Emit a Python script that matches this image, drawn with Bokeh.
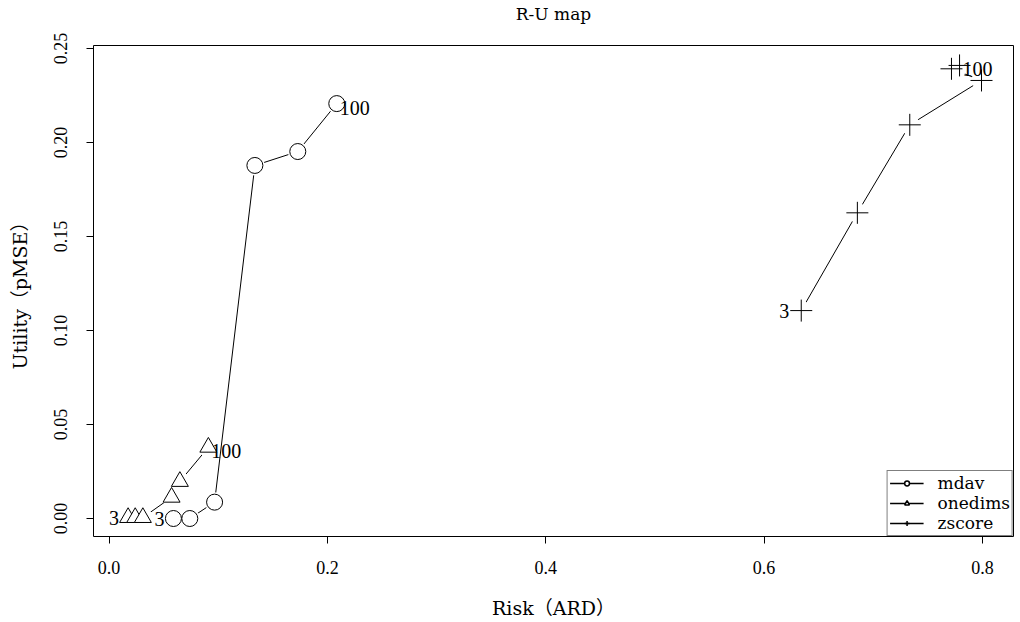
import math
from bokeh.plotting import figure
from bokeh.models import (Range1d, FixedTicker, Legend, LegendItem, ColumnDataSource,
                          NumeralTickFormatter, Title)
from bokeh.embed import file_html
from bokeh.resources import INLINE
from bokeh.core.properties import value

WORD_FONT = "DejaVu Serif, Noto Sans CJK JP, serif"
NUM_FONT = "Liberation Serif, serif"

# ---- data ----
k_labels = ["3", "100"]

mdav_risk = [0.059, 0.074, 0.0967, 0.1336, 0.1729, 0.2086]
mdav_util = [0.000, 0.000, 0.0087, 0.1878, 0.1952, 0.2207]

onedims_risk = [0.0175, 0.024, 0.031, 0.0573, 0.0649, 0.091]
onedims_util = [0.0005, 0.0005, 0.0005, 0.0113, 0.0197, 0.0379]

zscore_risk = [0.634, 0.6854, 0.7334, 0.7991, 0.7716, 0.779]
zscore_util = [0.1106, 0.1626, 0.2094, 0.233, 0.2392, 0.241]

x_ticks = [0.0, 0.2, 0.4, 0.6, 0.8]
y_ticks = [0.00, 0.05, 0.10, 0.15, 0.20, 0.25]

p = figure(width=1016, height=622, output_backend="svg", toolbar_location=None,
           x_range=Range1d(-0.0142, 0.8284), y_range=Range1d(-0.00957, 0.2516),
           min_border_left=93, min_border_right=3, min_border_top=45, min_border_bottom=86)

# real title (outer panel)
p.title.text = "R-U map"
p.title.align = "center"
p.title.vertical_align = "top"
p.title.text_font = WORD_FONT
p.title.text_font_size = "17px"
p.title.text_font_style = "normal"
p.title.text_color = "black"
p.title.standoff = 0

# inner spacer panel between title and frame
spacer = Title(text=" ", text_font_size="1px", standoff=17)
p.add_layout(spacer, "above")

p.grid.visible = False
p.outline_line_color = "black"
p.outline_line_width = 1
p.background_fill_color = "white"
p.border_fill_color = "white"

for ax in (p.xaxis[0], p.yaxis[0]):
    ax.axis_line_color = None
    ax.major_tick_line_color = "black"
    ax.major_tick_out = 7
    ax.major_tick_in = 0
    ax.minor_tick_line_color = None
    ax.major_label_text_font = NUM_FONT
    ax.major_label_text_font_size = "18px"
    ax.major_label_text_color = "black"
    ax.axis_label_text_font = WORD_FONT
    ax.axis_label_text_font_size = "19px"
    ax.axis_label_text_font_style = "normal"
    ax.axis_label_text_color = "black"

p.xaxis[0].ticker = FixedTicker(ticks=x_ticks)
p.xaxis[0].formatter = NumeralTickFormatter(format="0.0")
p.xaxis[0].axis_label = "Risk（ARD）"
p.xaxis[0].major_label_standoff = 17
p.xaxis[0].axis_label_standoff = 20

p.yaxis[0].ticker = FixedTicker(ticks=y_ticks)
p.yaxis[0].formatter = NumeralTickFormatter(format="0.00")
p.yaxis[0].major_label_orientation = "vertical"
p.yaxis[0].major_label_standoff = 19
p.yaxis[0].axis_label = "Utility（pMSE）"
p.yaxis[0].axis_label_standoff = 21

series = [
    ("mdav", mdav_risk, mdav_util, "circle", 16),
    ("onedims", onedims_risk, onedims_util, "triangle", 17),
    ("zscore", zscore_risk, zscore_util, "cross", 22),
]

# lines
for name, xs, ys, mk, sz in series:
    p.line(xs, ys, line_color="black", line_width=1)
# gap masks (type="b" look)
for name, xs, ys, mk, sz in series:
    p.scatter(xs, ys, marker="circle", size=20, fill_color="white", line_color=None)
# markers
for name, xs, ys, mk, sz in series:
    if mk == "cross":
        p.scatter(xs, ys, marker="cross", size=sz, line_color="black", line_width=1)
    else:
        p.scatter(xs, ys, marker=mk, size=sz, fill_color="white", line_color="black", line_width=1)

# k labels
for name, xs, ys, mk, sz in series:
    p.text(x=[xs[0]], y=[ys[0]], text=[k_labels[0]], text_align="right",
           text_baseline="middle", x_offset=-12 if mk == "cross" else -9,
           text_font=value(NUM_FONT), text_font_size="20px", text_color="black")
    p.text(x=[xs[-1]], y=[ys[-1]], text=[k_labels[1]], text_align="left",
           text_baseline="middle", x_offset=3, y_offset=4, text_font=value(NUM_FONT),
           text_font_size="20px", text_color="black")

# legend with small glyphs (renderers holding no visible point)
items = []
for name, xs, ys, mk, sz in series:
    src = ColumnDataSource(data=dict(x=[math.nan], y=[math.nan]))
    lr = p.line("x", "y", source=src, line_color="black", line_width=1.5)
    if mk == "cross":
        mr = p.scatter("x", "y", source=src, marker="cross", size=14, line_color="black", line_width=1.5)
    elif mk == "triangle":
        mr = p.scatter("x", "y", source=src, marker="triangle", size=8, fill_color="white",
                       line_color="black", line_width=1.5)
    else:
        mr = p.scatter("x", "y", source=src, marker="circle", size=6, fill_color="white",
                       line_color="black", line_width=1.5)
    items.append(LegendItem(label=name, renderers=[lr, mr]))

legend = Legend(items=items, location="bottom_right")
legend.border_line_color = "black"
legend.border_line_width = 1
legend.background_fill_color = "white"
legend.background_fill_alpha = 1
legend.margin = 0
legend.padding = 2
legend.spacing = 0
legend.glyph_width = 34
legend.glyph_height = 12
legend.label_height = 12
legend.label_standoff = 14
legend.label_text_font = WORD_FONT
legend.label_text_font_size = "17px"
legend.label_text_color = "black"
p.add_layout(legend, "center")

open("out.html", "w").write(file_html(p, INLINE))
